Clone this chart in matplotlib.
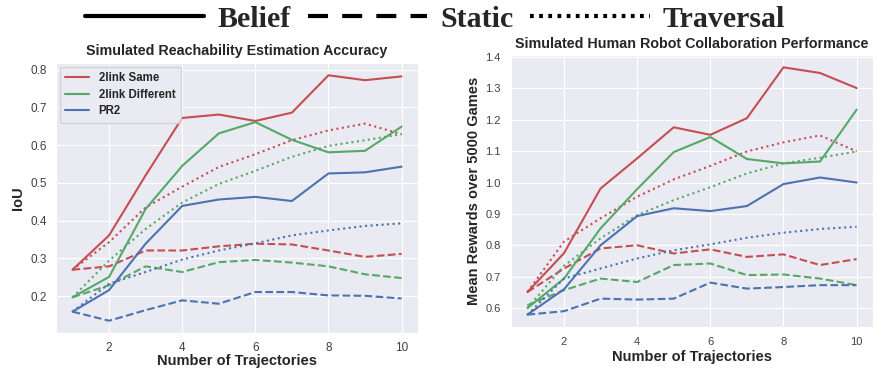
import matplotlib
matplotlib.use("Agg")
import matplotlib.pyplot as plt
from matplotlib.lines import Line2D
import seaborn as sns

sns.set_style("darkgrid")
plt.rcParams['font.family'] = ['Liberation Sans', 'DejaVu Sans']

x = [1, 2, 3, 4, 5, 6, 7, 8, 9, 10]
series_names = ["2link Same", "2link Different", "PR2"]
colors = ["#C44E52", "#55A868", "#4C72B0"]

# Left: IoU
iou_belief = [
    [0.270, 0.361, 0.520, 0.672, 0.681, 0.664, 0.686, 0.785, 0.772, 0.782],
    [0.197, 0.251, 0.431, 0.545, 0.631, 0.661, 0.614, 0.581, 0.585, 0.649],
    [0.159, 0.216, 0.339, 0.439, 0.456, 0.463, 0.452, 0.525, 0.528, 0.543],
]
iou_static = [
    [0.270, 0.279, 0.321, 0.321, 0.332, 0.339, 0.337, 0.321, 0.304, 0.312],
    [0.197, 0.229, 0.279, 0.264, 0.290, 0.296, 0.289, 0.279, 0.258, 0.248],
    [0.159, 0.135, 0.163, 0.189, 0.180, 0.211, 0.211, 0.202, 0.201, 0.194],
]
iou_traversal = [
    [0.270, 0.343, 0.435, 0.490, 0.542, 0.576, 0.613, 0.639, 0.657, 0.629],
    [0.197, 0.294, 0.378, 0.448, 0.497, 0.532, 0.569, 0.598, 0.613, 0.629],
    [0.159, 0.233, 0.264, 0.297, 0.321, 0.340, 0.361, 0.374, 0.386, 0.393],
]

# Right: mean rewards
rew_belief = [
    [0.651, 0.775, 0.981, 1.077, 1.176, 1.152, 1.205, 1.367, 1.349, 1.301],
    [0.600, 0.694, 0.854, 0.979, 1.097, 1.145, 1.075, 1.061, 1.067, 1.232],
    [0.579, 0.660, 0.800, 0.893, 0.918, 0.909, 0.925, 0.995, 1.016, 1.000],
]
rew_static = [
    [0.651, 0.726, 0.790, 0.800, 0.774, 0.787, 0.763, 0.771, 0.737, 0.756],
    [0.609, 0.657, 0.694, 0.683, 0.737, 0.742, 0.705, 0.707, 0.694, 0.673],
    [0.579, 0.590, 0.630, 0.627, 0.630, 0.681, 0.662, 0.667, 0.673, 0.673],
]
rew_traversal = [
    [0.651, 0.812, 0.886, 0.955, 1.010, 1.053, 1.099, 1.128, 1.150, 1.099],
    [0.600, 0.735, 0.822, 0.896, 0.944, 0.985, 1.029, 1.061, 1.079, 1.099],
    [0.579, 0.694, 0.726, 0.758, 0.784, 0.803, 0.824, 0.840, 0.852, 0.859],
]

method_names = ["Belief", "Static", "Traversal"]
method_styles = ["-", "--", ":"]

fig = plt.figure(figsize=(8.81, 3.70), dpi=100)
ax1 = fig.add_axes([0.0636, 0.100, 0.4109, 0.7297])
ax2 = fig.add_axes([0.580, 0.1162, 0.411, 0.7352])

def draw(ax, belief, static, trav):
    for i in range(3):
        ax.plot(x, belief[i], color=colors[i], lw=1.5, ls="-", label=series_names[i])
        ax.plot(x, static[i], color=colors[i], lw=1.5, ls="--")
        ax.plot(x, trav[i], color=colors[i], lw=1.5, ls=":")
    ax.set_xticks([2, 4, 6, 8, 10])

draw(ax1, iou_belief, iou_static, iou_traversal)
ax1.set_yticks([0.2, 0.3, 0.4, 0.5, 0.6, 0.7, 0.8])
ax1.set_xlabel("Number of Trajectories", fontsize=10.5, fontweight="bold", labelpad=0)
ax1.set_ylabel("IoU", fontsize=10.5, fontweight="bold", labelpad=4)
ax1.set_title("Simulated Reachability Estimation Accuracy", fontsize=10.3, fontweight="bold", pad=6)
ax1.tick_params(labelsize=8.5, colors=".25", pad=3)
leg = ax1.legend(loc="upper left", prop={"weight": "bold", "size": 8.3}, framealpha=0.8,
                 edgecolor="0.8", handlelength=2.1, labelspacing=0.4,
                 borderaxespad=0.35, borderpad=0.45)

draw(ax2, rew_belief, rew_static, rew_traversal)
ax2.set_yticks([0.6, 0.7, 0.8, 0.9, 1.0, 1.1, 1.2, 1.3, 1.4])
ax2.set_xlabel("Number of Trajectories", fontsize=10.5, fontweight="bold", labelpad=2)
ax2.set_ylabel("Mean Rewards over 5000 Games", fontsize=10.5, fontweight="bold", labelpad=3)
ax2.set_title("Simulated Human Robot Collaboration Performance", fontsize=10.3, fontweight="bold", pad=5)
ax2.tick_params(labelsize=8, colors=".25", pad=4)

handles = [Line2D([], [], color="black", lw=3, ls=s) for s in method_styles]
handles[1].set_dashes([4.8, 3.4])
handles[2].set_dashes([0.9, 1.3])
fig.legend(handles, method_names, loc="center", bbox_to_anchor=(0.494, 0.948), ncol=3,
           frameon=False, handlelength=4.0, handletextpad=0.45, columnspacing=0.55,
           prop={"family": "Liberation Serif", "weight": "bold", "size": 21.5})

fig.savefig("out.png", dpi=100)
